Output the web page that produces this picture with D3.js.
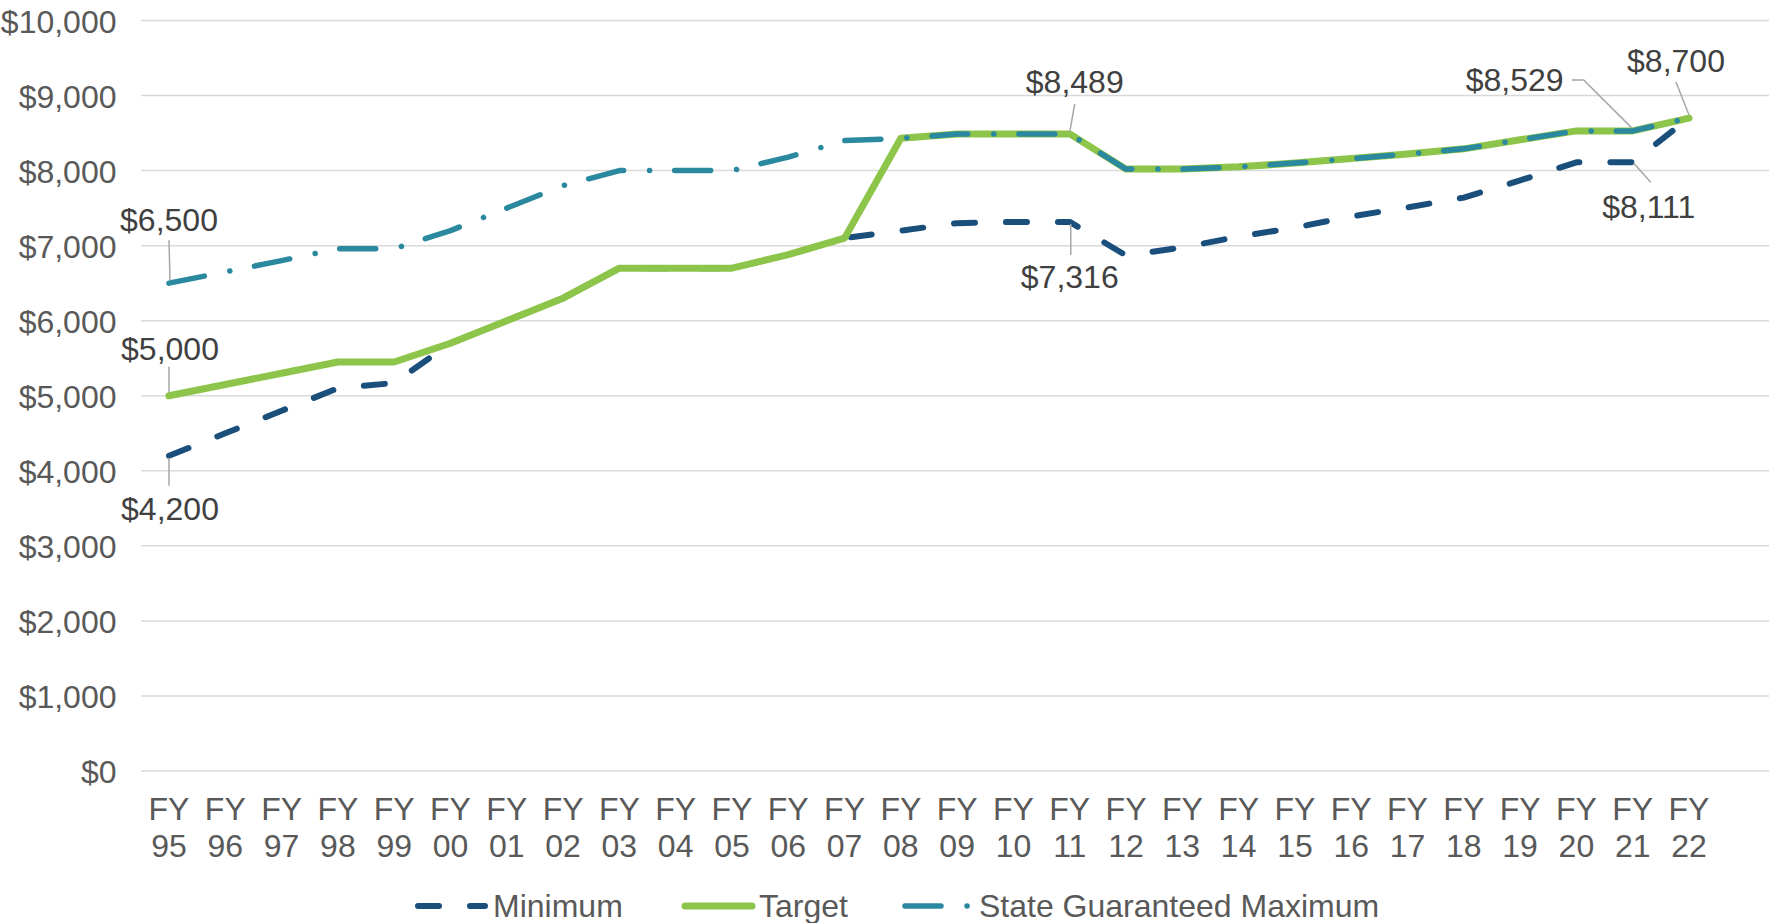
<!DOCTYPE html>
<html>
<head>
<meta charset="utf-8">
<script src="https://cdn.jsdelivr.net/npm/d3@7"></script>
<style>
  body { margin: 0; background: #fff; }
  svg text { font-family: "Liberation Sans", Arial, sans-serif; }
</style>
</head>
<body>
<svg id="chart" width="1769" height="923"></svg>
<script>
// fiscal years FY95 .. FY22
var years = ["95", "96", "97", "98", "99", "00", "01", "02", "03", "04", "05", "06", "07",
    "08", "09", "10", "11", "12", "13", "14", "15", "16", "17", "18", "19", "20", "21", "22"];

var minimum = [4200, 4500, 4800, 5100, 5170, 5700, 6000, 6300, 6700, 6700, 6700, 6880, 7100,
    7200, 7300, 7316, 7316, 6870, 6975, 7120, 7240, 7390, 7510, 7640, 7870, 8111, 8111, 8700];

var target = [5000, 5150, 5300, 5450, 5450, 5700, 6000, 6300, 6700, 6700, 6700, 6880, 7100,
    8430, 8489, 8489, 8489, 8020, 8020, 8050, 8100, 8160, 8220, 8290, 8410, 8529, 8529, 8700];

var stateMax = [6500, 6650, 6800, 6960, 6960, 7200, 7500, 7800, 8000, 8000, 8000, 8180, 8400,
    8430, 8489, 8489, 8489, 8020, 8020, 8050, 8100, 8160, 8220, 8290, 8410, 8529, 8529, 8700];

var yTicks = [0, 1000, 2000, 3000, 4000, 5000, 6000, 7000, 8000, 9000, 10000];

var svg = d3.select("#chart");
var fs = "32px";

var x = d3.scalePoint()
    .domain(years)
    .range([169, 1689]);

var y = d3.scaleLinear()
    .domain([0, 10000])
    .range([771, 20.5]);

var money = d3.format("$,");

// gridlines
svg.append("g")
    .selectAll("line")
    .data(yTicks)
    .enter()
    .append("line")
    .attr("x1", 141)
    .attr("x2", 1769)
    .attr("y1", function(d) { return y(d); })
    .attr("y2", function(d) { return y(d); })
    .attr("stroke", "#d9d9d9")
    .attr("stroke-width", 1.5);

// y axis labels
var yAxis = d3.axisLeft(y)
    .tickValues(yTicks)
    .tickFormat(money)
    .tickSize(0)
    .tickPadding(0);

var yg = svg.append("g")
    .attr("transform", "translate(116.5,0)")
    .call(yAxis);
yg.select(".domain").remove();
yg.selectAll("text")
    .attr("fill", "#595959")
    .style("font-size", fs)
    .style("font-family", "Liberation Sans, Arial, sans-serif")
    .attr("dy", "0.36em");

// x axis labels, two lines each
var xg = svg.append("g")
    .selectAll("text")
    .data(years)
    .enter()
    .append("text")
    .attr("text-anchor", "middle")
    .attr("fill", "#595959")
    .style("font-size", fs);
xg.append("tspan")
    .attr("x", function(d) { return x(d); })
    .attr("y", 819.5)
    .text("FY");
xg.append("tspan")
    .attr("x", function(d) { return x(d); })
    .attr("y", 856.5)
    .text(function(d) { return d; });

var series = [
    { name: "Minimum", values: minimum, color: "#1a4f7c", width: 6, dash: "21 31" },
    { name: "Target", values: target, color: "#8cc54a", width: 7, dash: null },
    { name: "State Guaranteed Maximum", values: stateMax, color: "#2a889f", width: 5.5, dash: "36 26 0.1 25" }
];

var line = d3.line()
    .x(function(d, i) { return x(years[i]); })
    .y(function(d) { return y(d); });

svg.append("g")
    .selectAll("path")
    .data(series)
    .enter()
    .append("path")
    .attr("d", function(d) { return line(d.values); })
    .attr("fill", "none")
    .attr("stroke", function(d) { return d.color; })
    .attr("stroke-width", function(d) { return d.width; })
    .attr("stroke-dasharray", function(d) { return d.dash; })
    .attr("stroke-linecap", "round")
    .attr("stroke-linejoin", "round");

// data labels, offsets relative to the point
var labels = [
    { s: stateMax, i: 0, dx: 0, dy: -64, lead: [[0, -43], [1, -3]] },
    { s: target, i: 0, dx: 1, dy: -47, lead: [[0, -29], [0, -3]] },
    { s: minimum, i: 0, dx: 1, dy: 53, lead: [[0, 2], [0, 30]] },
    { s: target, i: 16, dx: 5, dy: -52, lead: [[5, -30], [0, -2]] },
    { s: minimum, i: 16, dx: 0, dy: 55, lead: [[1, 2], [1, 33]] },
    { s: target, i: 26, dx: -118, dy: -51, lead: [[-61, -51], [-49, -51], [-1, -3]] },
    { s: minimum, i: 26, dx: 16, dy: 44, lead: [[1, 1], [18, 20]] },
    { s: target, i: 27, dx: -13, dy: -58, lead: [[-13, -36], [0, -3]] }
];

var lab = svg.append("g");
labels.forEach(function(l) {
    var px = x(years[l.i]);
    var py = y(l.s[l.i]);
    lab.append("path")
        .attr("d", d3.line()(l.lead.map(function(p) { return [px + p[0], py + p[1]]; })))
        .attr("fill", "none")
        .attr("stroke", "#a6a6a6")
        .attr("stroke-width", 1.5);
    lab.append("text")
        .attr("x", px + l.dx)
        .attr("y", py + l.dy + 11.5)
        .attr("text-anchor", "middle")
        .attr("fill", "#404040")
        .style("font-size", fs)
        .text(money(l.s[l.i]));
});

// legend
var legendX = [418, 685, 905];
var legendText = [493, 759, 979];
var lg = svg.append("g")
    .selectAll("g")
    .data(series)
    .enter()
    .append("g");
lg.append("line")
    .attr("x1", function(d, i) { return legendX[i]; })
    .attr("x2", function(d, i) { return legendX[i] + (i == 2 ? 64 : 67); })
    .attr("y1", 906)
    .attr("y2", 906)
    .attr("stroke", function(d) { return d.color; })
    .attr("stroke-width", function(d) { return d.width; })
    .attr("stroke-dasharray", function(d) { return d.dash; })
    .attr("stroke-linecap", "round");
lg.append("text")
    .attr("x", function(d, i) { return legendText[i]; })
    .attr("y", 917)
    .attr("fill", "#595959")
    .style("font-size", fs)
    .text(function(d) { return d.name; });
</script>
</body>
</html>
